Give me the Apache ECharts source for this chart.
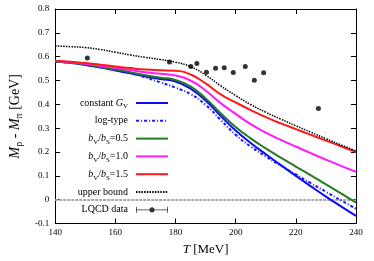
<!DOCTYPE html>
<html>
<head>
<meta charset="utf-8">
<script src="https://cdn.jsdelivr.net/npm/echarts@6/dist/echarts.min.js"></script>
<style>
html,body{margin:0;padding:0;background:#fff;}
#chart{width:374px;height:261px;}
</style>
</head>
<body>
<div id="chart"></div>
<script>
// Temperature grid (MeV)
const T = [140,145,150,155,160,165,170,175,180,185,190,195,200,205,210,215,220,225,230,235,240];
// M_rho - M_pi (GeV)
const constantGV = [0.580,0.574,0.565,0.554,0.542,0.530,0.517,0.506,0.496,0.466,0.416,0.352,0.290,0.238,0.191,0.145,0.100,0.056,0.013,-0.028,-0.068];
const logType    = [0.579,0.574,0.567,0.558,0.546,0.531,0.513,0.492,0.470,0.443,0.398,0.335,0.272,0.223,0.181,0.143,0.106,0.069,0.033,-0.003,-0.038];
const ratio05    = [0.580,0.575,0.567,0.557,0.546,0.535,0.522,0.512,0.502,0.475,0.425,0.363,0.305,0.257,0.215,0.176,0.139,0.102,0.064,0.026,-0.012];
const ratio10    = [0.582,0.577,0.570,0.562,0.553,0.544,0.535,0.528,0.521,0.500,0.458,0.405,0.360,0.317,0.281,0.251,0.223,0.195,0.168,0.142,0.117];
const ratio15    = [0.583,0.579,0.573,0.566,0.559,0.552,0.546,0.543,0.541,0.525,0.488,0.442,0.408,0.376,0.346,0.320,0.296,0.272,0.248,0.224,0.200];
const upperBound = [0.645,0.642,0.638,0.630,0.619,0.607,0.597,0.588,0.577,0.558,0.523,0.478,0.437,0.399,0.367,0.338,0.310,0.283,0.256,0.230,0.204];
// Lattice QCD data
const lqcdT = [150.7,178.0,185.1,187.1,190.3,193.3,196.2,199.2,203.2,206.2,209.3,227.5];
const lqcdM = [0.594,0.578,0.559,0.571,0.535,0.551,0.553,0.534,0.559,0.501,0.532,0.382];
// Axis ticks
const xTicks = [140,160,180,200,220,240];
const yTicks = [-0.1,0,0.1,0.2,0.3,0.4,0.5,0.6,0.7,0.8];

const seriesNames = ['constant GV','log-type','bV/bS=0.5','bV/bS=1.0','bV/bS=1.5','upper bound','LQCD data'];
const FONT = "'Liberation Serif','Times New Roman',serif";

function pairs(xs, ys){ return xs.map((x,i)=>[x, ys[i]]); }

const legendLabels = {
  'constant GV': '{t|constant }{i|G}{s|V}{g| }',
  'log-type': '{t|log-type}{g| }',
  'bV/bS=0.5': '{i|b}{s|V}{t|/}{i|b}{s|S}{t|=0.5}{g| }',
  'bV/bS=1.0': '{i|b}{s|V}{t|/}{i|b}{s|S}{t|=1.0}{g| }',
  'bV/bS=1.5': '{i|b}{s|V}{t|/}{i|b}{s|S}{t|=1.5}{g| }',
  'upper bound': '{t|upper bound}{g| }',
  'LQCD data': '{t|LQCD data}{g| }'
};

function lineSeries(name, ys, color, width, type){
  return {
    name: name, type: 'line', data: pairs(T, ys),
    smooth: 0.5, showSymbol: false, symbol: 'none',
    lineStyle: {color: color, width: width, type: type},
    itemStyle: {color: color},
    silent: true, z: 3
  };
}

const errIcon = 'path://M0 0h0.8v6h-0.8Z M31.2 0h0.8v6h-0.8Z M0 2.6h32v0.8h-32Z M18.6 3A2.6 2.6 0 1 1 13.4 3A2.6 2.6 0 1 1 18.6 3Z';

const chart = echarts.init(document.getElementById('chart'), null, {renderer:'canvas'});
const axisCommon = {
  axisLine: {show: true, onZero: false, lineStyle: {color: '#000', width: 1}},
  axisTick: {show: true, inside: true, length: 5, lineStyle: {color: '#000'}},
  splitLine: {show: false}
};
chart.setOption({
  animation: false,
  backgroundColor: '#fff',
  grid: {left: 55, right: 18, top: 9, bottom: 29, containLabel: false},
  legend: {
    data: seriesNames.map(n => n === 'LQCD data'
      ? {name: n, icon: errIcon}
      : {name: n, itemStyle: {opacity: 0}}),
    orient: 'vertical', align: 'right', right: 205, top: 96,
    padding: 0, itemGap: 3.8, itemWidth: 32, itemHeight: 6,
    formatter: n => legendLabels[n],
    textStyle: {
      fontFamily: FONT, fontSize: 10, color: '#000', lineHeight: 14,
      rich: {
        t: {fontFamily: FONT, fontSize: 10, color: '#000', lineHeight: 14},
        i: {fontFamily: FONT, fontSize: 10, fontStyle: 'italic', color: '#000', lineHeight: 14},
        s: {fontFamily: FONT, fontSize: 7, color: '#000', lineHeight: 8, verticalAlign: 'bottom'},
        g: {fontSize: 4, width: 3, lineHeight: 14}
      }
    }
  },
  xAxis: [
    Object.assign({}, axisCommon, {
      type: 'value', min: xTicks[0], max: xTicks[xTicks.length-1], interval: 20, position: 'bottom',
      axisLabel: {show: true, margin: 5, fontFamily: FONT, fontSize: 9, color: '#000'},
      name: '{i|T}{t| [MeV]}', nameLocation: 'middle', nameGap: 18,
      nameTextStyle: {
        fontFamily: FONT, fontSize: 13, color: '#000',
        rich: {
          t: {fontFamily: FONT, fontSize: 13, color: '#000', lineHeight: 16},
          i: {fontFamily: FONT, fontSize: 13, fontStyle: 'italic', color: '#000', lineHeight: 16}
        }
      }
    }),
    Object.assign({}, axisCommon, {
      type: 'value', min: xTicks[0], max: xTicks[xTicks.length-1], interval: 20, position: 'top',
      axisLabel: {show: false}
    })
  ],
  yAxis: [
    Object.assign({}, axisCommon, {
      type: 'value', min: yTicks[0], max: yTicks[yTicks.length-1], interval: 0.1, position: 'left',
      axisLabel: {show: true, margin: 6, fontFamily: FONT, fontSize: 9, color: '#000',
        formatter: v => Math.abs(v) < 1e-9 ? '0' : v.toFixed(1)},
      name: '{i|M}{s|ρ}{t| - }{i|M}{s|π}{t| [GeV]}', nameLocation: 'middle', nameRotate: 90, nameGap: 22,
      nameTextStyle: {
        fontFamily: FONT, fontSize: 14, color: '#000',
        rich: {
          t: {fontFamily: FONT, fontSize: 14, color: '#000', lineHeight: 18},
          i: {fontFamily: FONT, fontSize: 14, fontStyle: 'italic', color: '#000', lineHeight: 18},
          s: {fontFamily: FONT, fontSize: 10, color: '#000', lineHeight: 11, verticalAlign: 'bottom'}
        }
      }
    }),
    Object.assign({}, axisCommon, {
      type: 'value', min: yTicks[0], max: yTicks[yTicks.length-1], interval: 0.1, position: 'right',
      axisLabel: {show: false}
    })
  ],
  series: [
    lineSeries('constant GV', constantGV, '#0a0aff', 2, 'solid'),
    lineSeries('log-type', logType, '#1a1aff', 2, [3,2,1,2]),
    lineSeries('bV/bS=0.5', ratio05, '#237a23', 2, 'solid'),
    lineSeries('bV/bS=1.0', ratio10, '#ff1aff', 2, 'solid'),
    lineSeries('bV/bS=1.5', ratio15, '#ff1a1a', 2, 'solid'),
    lineSeries('upper bound', upperBound, '#000000', 1.5, [1.5,1.2]),
    {
      name: 'LQCD data', type: 'scatter', data: pairs(lqcdT, lqcdM),
      symbol: 'circle', symbolSize: 5, itemStyle: {color: '#000'}, z: 5, silent: true,
      markLine: {
        silent: true, symbol: ['none','none'], label: {show: false}, z: 1,
        lineStyle: {color: '#a8a8a8', width: 2, type: [3,1]},
        data: [{yAxis: 0}]
      }
    }
  ]
});
</script>
</body>
</html>
